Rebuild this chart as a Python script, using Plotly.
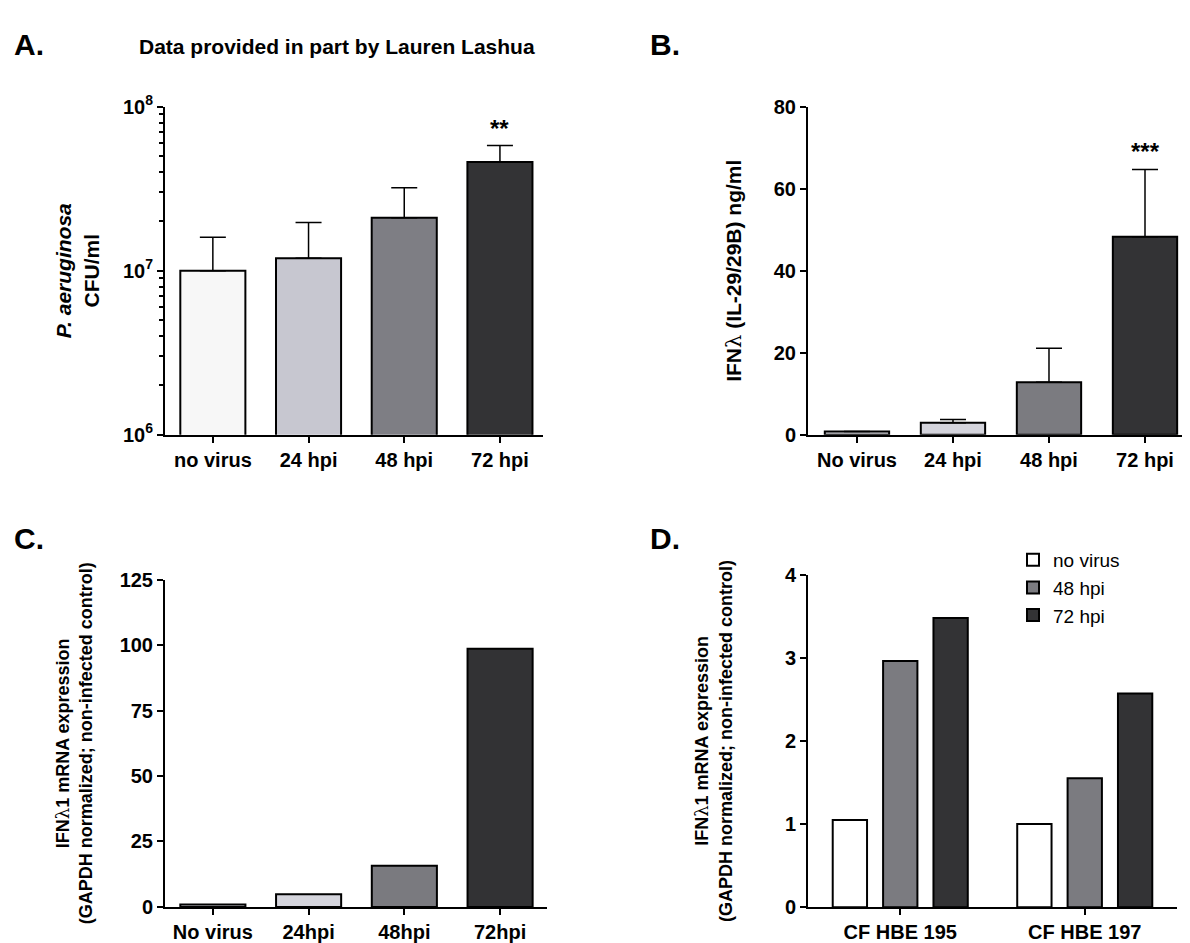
import plotly.graph_objects as go
import math

# ---------------- data ----------------
a_cats = ["no virus", "24 hpi", "48 hpi", "72 hpi"]
a_mean = [1.0e7, 1.19e7, 2.1e7, 4.6e7]
a_upper = [1.6e7, 1.97e7, 3.2e7, 5.8e7]
a_colors = ["#f7f7f7", "#c7c7d0", "#7e7e84", "#333335"]

b_cats = ["No virus", "24 hpi", "48 hpi", "72 hpi"]
b_mean = [0.8, 2.9, 12.8, 48.3]
b_upper = [0.8, 3.7, 21.1, 64.7]
b_colors = ["#d6d6dc", "#d4d4dc", "#7b7b80", "#333335"]

c_cats = ["No virus", "24hpi", "48hpi", "72hpi"]
c_vals = [0.9, 4.8, 15.7, 98.7]
c_colors = ["#d0d0d6", "#d4d4dc", "#7a7a7f", "#323234"]

d_groups = ["CF HBE 195", "CF HBE 197"]
d_series = ["no virus", "48 hpi", "72 hpi"]
d_vals = {
    "no virus": [1.05, 1.00],
    "48 hpi": [2.96, 1.55],
    "72 hpi": [3.48, 2.57],
}
d_colors = {"no virus": "#ffffff", "48 hpi": "#7b7b80", "72 hpi": "#333335"}

a_ticks = [1e6, 1e7, 1e8]
a_ticktext = ["10<sup>6</sup>", "10<sup>7</sup>", "10<sup>8</sup>"]
a_minor = [m * 10 ** e for e in (6, 7) for m in range(2, 10)]

FONT = "Liberation Sans, Arial, sans-serif"
W, H = 1190, 943
LAM = '<span style="font-weight:normal;font-family:DejaVu Serif">λ</span>'

fig = go.Figure()

err_style = dict(color="black", thickness=1.5, width=13)
line_style = dict(color="black", width=2)

# Panel A
fig.add_trace(go.Bar(
    x=a_cats, y=a_mean, width=0.68,
    marker=dict(color=a_colors, line=line_style),
    error_y=dict(type="data", symmetric=False,
                 array=[u - m for u, m in zip(a_upper, a_mean)],
                 arrayminus=[0] * len(a_mean), **err_style),
    xaxis="x", yaxis="y", showlegend=False,
))

# Panel B
fig.add_trace(go.Bar(
    x=b_cats, y=b_mean, width=0.67,
    marker=dict(color=b_colors, line=line_style),
    error_y=dict(type="data", symmetric=False,
                 array=[u - m for u, m in zip(b_upper, b_mean)],
                 arrayminus=[0] * len(b_mean), **err_style),
    xaxis="x2", yaxis="y2", showlegend=False,
))

# Panel C
fig.add_trace(go.Bar(
    x=c_cats, y=c_vals, width=0.68,
    marker=dict(color=c_colors, line=line_style),
    xaxis="x3", yaxis="y3", showlegend=False,
))

# Panel D
d_step = 0.273
d_width = 0.186
for i, s in enumerate(d_series):
    fig.add_trace(go.Bar(
        x=d_groups, y=d_vals[s], name=s,
        width=d_width, offset=(i - 1) * d_step - d_width / 2,
        marker=dict(color=d_colors[s], line=line_style),
        xaxis="x4", yaxis="y4", legendgroup=s,
    ))

tickfont = dict(family=FONT, size=20, color="black", weight="bold")

def xax(domain, anchor, rng):
    return dict(domain=domain, anchor=anchor, type="category", range=rng,
                showline=True, linewidth=2, linecolor="black",
                ticks="outside", ticklen=6, tickwidth=1.5, tickcolor="black",
                tickfont=tickfont, showgrid=False, zeroline=False, fixedrange=True)

def yax(domain, anchor, rng, title, tsize, standoff, **kw):
    d = dict(domain=domain, anchor=anchor, range=rng,
             showline=True, linewidth=2, linecolor="black",
             ticks="outside", ticklen=6, tickwidth=1.5, tickcolor="black",
             tickfont=tickfont, showgrid=False, zeroline=False,
             title=dict(text=title, standoff=standoff,
                        font=dict(family=FONT, size=tsize, color="black", weight="bold")))
    d.update(kw)
    return d

ydomAB = [1 - 424 / H, 1 - 87 / H]
fig.update_layout(
    xaxis=xax([157 / W, 535 / W], "y", [-0.5, 3.45]),
    yaxis=yax(ydomAB, "x", [6, 8], "<i>P. aeruginosa</i><br>CFU/ml", 21, 18,
              type="log", tickmode="array", tickvals=a_ticks, ticktext=a_ticktext,
              minor=dict(tickmode="array", tickvals=a_minor, ticks="outside",
                         ticklen=4, tickwidth=1.5, tickcolor="black", showgrid=False)),
    xaxis2=xax([800 / W, 1185 / W], "y2", [-0.51, 3.5]),
    yaxis2=yax(ydomAB, "x2", [0, 80], "IFN" + LAM + " (IL-29/29B) ng/ml", 21, 26,
               tickmode="array", tickvals=[0, 20, 40, 60, 80]),
    xaxis3=xax([157 / W, 539 / W], "y3", [-0.5, 3.49]),
    yaxis3=yax([1 - 909 / H, 1 - 573 / H], "x3", [0, 125],
               "IFN" + LAM + "1 mRNA expression<br>(GAPDH normalized; non-infected control)", 18, 22,
               tickmode="array", tickvals=[0, 25, 50, 75, 100, 125]),
    xaxis4=xax([800 / W, 1169 / W], "y4", [-0.5, 1.5]),
    yaxis4=yax([1 - 909.3 / H, 1 - 567.7 / H], "x4", [0, 4],
               "IFN" + LAM + "1 mRNA expression<br>(GAPDH normalized; non-infected control)", 18, 48,
               tickmode="array", tickvals=[0, 1, 2, 3, 4]),
    barmode="group",
    width=W, height=H,
    margin=dict(l=0, r=0, t=0, b=0),
    paper_bgcolor="white", plot_bgcolor="white",
    font=dict(family=FONT, color="black"),
    showlegend=True,
    legend=dict(x=1005 / W, y=1 - 533 / H, xanchor="left", yanchor="top",
                font=dict(family=FONT, size=19, color="black"),
                bgcolor="rgba(0,0,0,0)", tracegroupgap=0, itemclick=False),
)

ann = []
for txt, px, py in [("A.", 4, 23), ("B.", 640, 23), ("C.", 4, 531), ("D.", 640, 531)]:
    ann.append(dict(text=txt, x=px / W, y=1 - py / H, xref="paper", yref="paper",
                    xanchor="left", yanchor="middle", showarrow=False,
                    font=dict(family=FONT, size=30, color="black", weight="bold")))
ann.append(dict(text="Data provided in part by Lauren Lashua", x=329 / W, y=1 - 25 / H,
                xref="paper", yref="paper", xanchor="center", yanchor="middle",
                showarrow=False, font=dict(family=FONT, size=21, color="black", weight="bold")))
ann.append(dict(text="**", x=a_cats[3], y=math.log10(a_upper[3]), xref="x", yref="y",
                yanchor="bottom", yshift=2, showarrow=False,
                font=dict(family=FONT, size=24, color="black", weight="bold")))
ann.append(dict(text="***", x=b_cats[3], y=b_upper[3], xref="x2", yref="y2",
                yanchor="bottom", yshift=2, showarrow=False,
                font=dict(family=FONT, size=24, color="black", weight="bold")))
fig.update_layout(annotations=ann)

fig.write_html("out.html")
